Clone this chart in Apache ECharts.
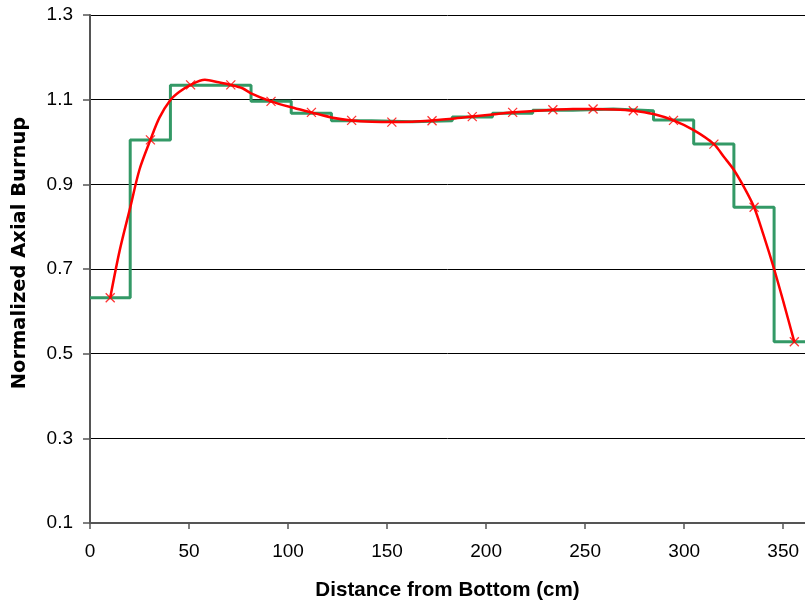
<!DOCTYPE html>
<html>
<head>
<meta charset="utf-8">
<script src="https://cdn.jsdelivr.net/npm/echarts@6/dist/echarts.min.js"></script>
<style>
  html, body { margin: 0; padding: 0; background: #fff; }
  #chart { width: 805px; height: 606px; }
</style>
</head>
<body>
<div id="chart"></div>
<script>
// node centres (cm) and values at the markers
var nodeX = [10.2, 30.5, 50.8, 71.1, 91.4, 111.8, 132.1, 152.4, 172.7, 193.0, 213.4, 233.7, 254.0, 274.3, 294.6, 315.0, 335.3, 355.6];
var nodeValues = [0.632, 1.005, 1.135, 1.135, 1.096, 1.070, 1.051, 1.047, 1.050, 1.060, 1.070, 1.076, 1.078, 1.074, 1.051, 0.995, 0.846, 0.528];

// step profile: left edge of each node and its value (last edge closes the profile)
var stepEdges = [0, 20.3, 40.6, 61.0, 81.3, 101.6, 121.9, 142.2, 162.6, 182.9, 203.2, 223.5, 243.8, 264.2, 284.5, 304.8, 325.1, 345.4, 365.8];
var stepValues = [0.632, 1.005, 1.134, 1.134, 1.096, 1.068, 1.050, 1.048, 1.050, 1.059, 1.068, 1.075, 1.078, 1.074, 1.052, 0.995, 0.846, 0.528];

// fitted curve
var curveX = [10.2, 15, 20.3, 25, 30.5, 35, 40.6, 45, 50.8, 58, 65, 71.1, 77, 81.3, 91.4, 101.6, 111.8, 121.9, 132.1, 142.2, 152.4, 162.6, 172.7, 183, 193, 203.2, 213.4, 223.5, 233.7, 243.8, 254, 264.2, 274.3, 284.5, 294.6, 304.8, 315, 320, 325.1, 330, 335.3, 340, 345.4, 350, 355.6];
var curveY = [0.632, 0.744, 0.845, 0.935, 1.005, 1.057, 1.099, 1.118, 1.135, 1.147, 1.141, 1.135, 1.127, 1.115, 1.096, 1.082, 1.070, 1.058, 1.051, 1.048, 1.047, 1.048, 1.051, 1.055, 1.060, 1.065, 1.070, 1.073, 1.076, 1.078, 1.078, 1.077, 1.074, 1.066, 1.051, 1.028, 0.995, 0.965, 0.934, 0.895, 0.846, 0.781, 0.700, 0.624, 0.528];

var xTicks = [0, 50, 100, 150, 200, 250, 300, 350];

function pairs(xs, ys) {
  return xs.map(function (x, i) {
    return [x, ys[i < ys.length ? i : ys.length - 1]];
  });
}

var chart = echarts.init(document.getElementById("chart"));
var font = "Liberation Sans, Arial, sans-serif";

var option = {
  animation: false,
  backgroundColor: "#fff",
  grid: { left: 90, top: 15, right: 0, bottom: 82, containLabel: false },
  xAxis: {
    type: "value",
    min: 0,
    max: 361,
    interval: 50,
    name: "Distance from Bottom (cm)",
    nameLocation: "middle",
    nameGap: 57,
    nameTextStyle: { fontFamily: font, fontWeight: "bold", fontSize: 20.6, color: "#000" },
    axisLine: { lineStyle: { color: "#555", width: 2 } },
    axisTick: { show: true, length: 6, lineStyle: { color: "#555", width: 1.5 }, customValues: xTicks },
    axisLabel: { fontFamily: font, fontSize: 19, color: "#000", margin: 19, customValues: xTicks },
    splitLine: { show: false },
  },
  yAxis: {
    type: "value",
    min: 0.1,
    max: 1.3,
    interval: 0.2,
    name: "Normalized Axial Burnup",
    nameLocation: "middle",
    nameGap: 60,
    nameTextStyle: {
      fontFamily: "DejaVu Sans",
      fontWeight: "bold",
      fontSize: 19.5,
      color: "#000",
      padding: [0, 0, 0, 32],
    },
    axisLine: { show: true, lineStyle: { color: "#555", width: 2 } },
    axisTick: { show: true, length: 7, lineStyle: { color: "#555", width: 1.5 } },
    axisLabel: {
      fontFamily: font,
      fontSize: 19,
      color: "#000",
      margin: 17,
      formatter: function (v) { return v.toFixed(1); },
    },
    splitLine: { show: true, lineStyle: { color: "#000", width: 1 } },
  },
  series: [
    {
      name: "step",
      type: "line",
      step: "end",
      data: pairs(stepEdges, stepValues),
      symbol: "none",
      lineStyle: { color: "#339966", width: 3 },
      z: 2,
    },
    {
      name: "curve",
      type: "line",
      smooth: 0.3,
      data: pairs(curveX, curveY),
      symbol: "none",
      lineStyle: { color: "#ff0000", width: 2.5 },
      z: 3,
    },
    {
      name: "nodes",
      type: "scatter",
      data: pairs(nodeX, nodeValues),
      symbol: "path://M0,0L10,10M10,0L0,10",
      symbolSize: 9,
      itemStyle: { color: "none", borderColor: "#ff0000", borderWidth: 1.3 },
      z: 4,
    },
  ],
};

chart.setOption(option);
</script>
</body>
</html>
